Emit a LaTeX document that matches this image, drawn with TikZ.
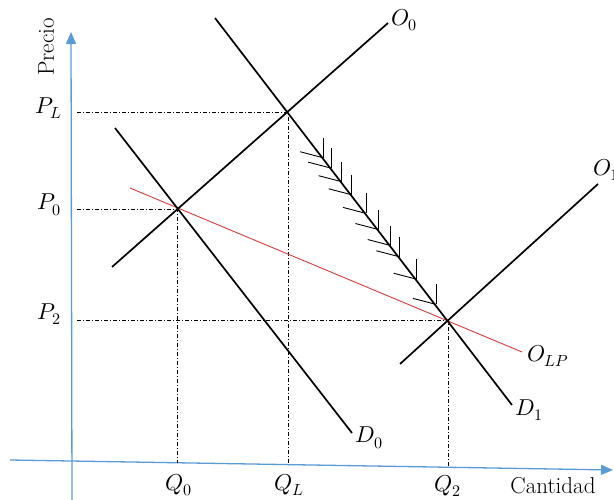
\documentclass[tikz,border=0pt]{standalone}
\usepackage{fontspec}
\usepackage{unicode-math}
\usetikzlibrary{arrows.meta,calc}
\definecolor{axisblue}{RGB}{91,155,213}
\definecolor{lpred}{RGB}{215,60,60}
\begin{document}
\begin{tikzpicture}[x=1pt,y=-1pt,
  curve/.style={line width=1.7pt,black},
  guide/.style={line width=0.7pt,dash pattern=on 4pt off 2pt on 1pt off 2pt},
  axisline/.style={axisblue,line width=1.3pt,-{Triangle[width=10pt,length=12pt]}},
  lbl/.style={font=\fontsize{23}{27}\selectfont,inner sep=0pt},
  hatchline/.style={line width=0.9pt}]
\useasboundingbox (0,0) rectangle (614,500);
% axes
\coordinate (yb) at (72,500);
\coordinate (yt) at (71,32);
\coordinate (xl) at (10,460);
\coordinate (xr) at (613,470);
\draw[axisline] (yb) -- (yt);
\draw[axisline] (xl) -- (xr);
% key points
\coordinate (E0) at (177,209);
\coordinate (EL) at (288,112);
\coordinate (E2) at (448,320);
% guides
\coordinate (gPL) at (77,112);
\coordinate (gP0) at (77,209);
\coordinate (gP2) at (77,320);
\coordinate (gQ0) at (177,463);
\coordinate (gQL) at (288,465);
\coordinate (gQ2) at (448,467);
\draw[guide] (gPL) -- (EL) -- (gQL);
\draw[guide] (gP0) -- (E0) -- (gQ0);
\draw[guide] (gP2) -- (E2) -- (gQ2);
% curves
\coordinate (O0a) at (112,267);
\coordinate (O0b) at (388,23);
\coordinate (O1a) at (400,364);
\coordinate (O1b) at (598,184);
\coordinate (D0a) at (115,128);
\coordinate (D0b) at (352,433);
\coordinate (D1a) at (215,18);
\coordinate (D1b) at (512,405);
\coordinate (La) at (130,188);
\coordinate (Lb) at (522,352);
\draw[lpred,line width=0.9pt] (La) -- (Lb);
\draw[curve] (O0a) -- (O0b);
\draw[curve] (O1a) -- (O1b);
\draw[curve] (D0a) -- (D0b);
\draw[curve] (D1a) -- (D1b);
% hatching
\foreach \t in {0.22,0.27,0.335,0.398,0.4875,0.565,0.642,0.696,0.804,0.925}{
  \coordinate (h) at ($(EL)!\t!(E2)$);
  \draw[hatchline] (h) -- ++(0,-20);
  \draw[hatchline] (h) -- ++(-23,-6);
}
% labels
\node[lbl] (lPL) at (49,108) {$P_L$};
\node[lbl] (lP0) at (49,205) {$P_0$};
\node[lbl] (lP2) at (49,314) {$P_2$};
\node[lbl] (lQ0) at (179,485) {$Q_0$};
\node[lbl] (lQL) at (289,485) {$Q_L$};
\node[lbl] (lQ2) at (448,486) {$Q_2$};
\node[lbl] (lCant) at (553,486) {Cantidad};
\node[lbl,rotate=90] (lPrecio) at (46,47) {Precio};
\node[lbl,anchor=west] (lO0) at (391,20) {$O_0$};
\node[lbl,anchor=west] (lO1) at (593,170) {$O_1$};
\node[lbl,anchor=west] (lD0) at (355,438) {$D_0$};
\node[lbl,anchor=west] (lD1) at (515,410) {$D_1$};
\node[lbl,anchor=west] (lOLP) at (527,356) {$O_{LP}$};
\end{tikzpicture}
\end{document}
